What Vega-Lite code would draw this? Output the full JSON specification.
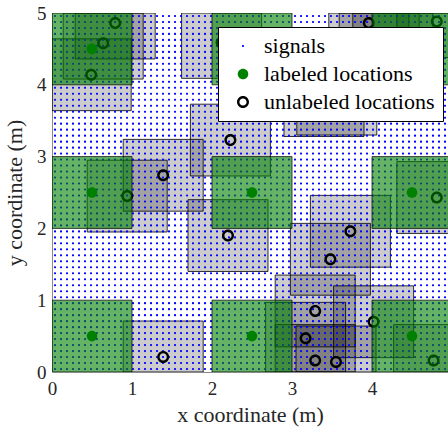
{
  "$schema": "https://vega.github.io/schema/vega-lite/v6.json",
  "width": 396,
  "height": 359,
  "autosize": {"type": "none"},
  "padding": {"left": 52, "top": 13, "right": 0, "bottom": 59},
  "background": "white",
  "datasets": {
    "greyRects": [
      {"x1": 0, "x2": 0.99, "y1": 3.64, "y2": 4.64},
      {"x1": 0.14, "x2": 1.14, "y1": 4.08, "y2": 5},
      {"x1": 0.29, "x2": 1.29, "y1": 4.36, "y2": 5},
      {"x1": 0.89, "x2": 1.89, "y1": 2.24, "y2": 3.24},
      {"x1": 0.44, "x2": 1.44, "y1": 1.95, "y2": 2.95},
      {"x1": 1.73, "x2": 2.73, "y1": 2.73, "y2": 3.73},
      {"x1": 1.7, "x2": 2.7, "y1": 1.4, "y2": 2.4},
      {"x1": 0.89, "x2": 1.89, "y1": 0, "y2": 0.71},
      {"x1": 3.23, "x2": 4.23, "y1": 1.46, "y2": 2.46},
      {"x1": 4.31, "x2": 5, "y1": 1.93, "y2": 2.93},
      {"x1": 2.98, "x2": 3.98, "y1": 1.07, "y2": 2.07},
      {"x1": 2.79, "x2": 3.79, "y1": 0.35, "y2": 1.35},
      {"x1": 3.52, "x2": 4.52, "y1": 0.2, "y2": 1.2},
      {"x1": 2.67, "x2": 3.67, "y1": 0, "y2": 0.97},
      {"x1": 2.79, "x2": 3.79, "y1": 0, "y2": 0.66},
      {"x1": 3.05, "x2": 4.05, "y1": 0, "y2": 0.64},
      {"x1": 4.27, "x2": 5, "y1": 0, "y2": 0.66},
      {"x1": 3.46, "x2": 4.46, "y1": 4.36, "y2": 5},
      {"x1": 4.31, "x2": 5, "y1": 4.38, "y2": 5},
      {"x1": 1.62, "x2": 2.62, "y1": 4.09, "y2": 5},
      {"x1": 2.9, "x2": 3.9, "y1": 3.28, "y2": 4.28},
      {"x1": 3.06, "x2": 4.06, "y1": 3.3, "y2": 4.3},
      {"x1": 3.59, "x2": 4.59, "y1": 4.12, "y2": 5},
      {"x1": 3.76, "x2": 4.76, "y1": 4.2, "y2": 5}
    ],
    "greenRects": [
      {"x1": 0, "x2": 1, "y1": 0, "y2": 1},
      {"x1": 2, "x2": 3, "y1": 0, "y2": 1},
      {"x1": 4, "x2": 5, "y1": 0, "y2": 1},
      {"x1": 0, "x2": 1, "y1": 2, "y2": 3},
      {"x1": 2, "x2": 3, "y1": 2, "y2": 3},
      {"x1": 4, "x2": 5, "y1": 2, "y2": 3},
      {"x1": 0, "x2": 1, "y1": 4, "y2": 5},
      {"x1": 2, "x2": 3, "y1": 4, "y2": 5},
      {"x1": 4, "x2": 5, "y1": 4, "y2": 5}
    ],
    "signals": [
      {"kind": "signals",
       "xs": [0.0375,0.1125,0.1875,0.2625,0.3375,0.4125,0.4875,0.5625,0.6375,0.7125,0.7875,0.8625,0.9375,1.0125,1.0875,1.1625,1.2375,1.3125,1.3875,1.4625,1.5375,1.6125,1.6875,1.7625,1.8375,1.9125,1.9875,2.0625,2.1375,2.2125,2.2875,2.3625,2.4375,2.5125,2.5875,2.6625,2.7375,2.8125,2.8875,2.9625,3.0375,3.1125,3.1875,3.2625,3.3375,3.4125,3.4875,3.5625,3.6375,3.7125,3.7875,3.8625,3.9375,4.0125,4.0875,4.1625,4.2375,4.3125,4.3875,4.4625,4.5375,4.6125,4.6875,4.7625,4.8375,4.9125],
       "ys": [0.0417,0.125,0.2083,0.2917,0.375,0.4583,0.5417,0.625,0.7083,0.7917,0.875,0.9583,1.0417,1.125,1.2083,1.2917,1.375,1.4583,1.5417,1.625,1.7083,1.7917,1.875,1.9583,2.0417,2.125,2.2083,2.2917,2.375,2.4583,2.5417,2.625,2.7083,2.7917,2.875,2.9583,3.0417,3.125,3.2083,3.2917,3.375,3.4583,3.5417,3.625,3.7083,3.7917,3.875,3.9583,4.0417,4.125,4.2083,4.2917,4.375,4.4583,4.5417,4.625,4.7083,4.7917,4.875,4.9583]}
    ],
    "labeled": [
      {"x": 0.5, "y": 0.5}, {"x": 2.5, "y": 0.5}, {"x": 4.5, "y": 0.5},
      {"x": 0.5, "y": 2.5}, {"x": 2.5, "y": 2.5}, {"x": 4.5, "y": 2.5},
      {"x": 0.5, "y": 4.5}, {"x": 2.5, "y": 4.5}, {"x": 4.5, "y": 4.5}
    ],
    "unlabeled": [
      {"x": 0.49, "y": 4.14}, {"x": 0.64, "y": 4.58}, {"x": 0.79, "y": 4.86},
      {"x": 1.39, "y": 2.74}, {"x": 0.94, "y": 2.45}, {"x": 2.23, "y": 3.23},
      {"x": 2.2, "y": 1.9}, {"x": 1.39, "y": 0.21}, {"x": 3.73, "y": 1.96},
      {"x": 4.81, "y": 2.43}, {"x": 3.48, "y": 1.57}, {"x": 3.29, "y": 0.85},
      {"x": 4.02, "y": 0.7}, {"x": 3.17, "y": 0.47}, {"x": 3.29, "y": 0.16},
      {"x": 3.55, "y": 0.14}, {"x": 4.77, "y": 0.16}, {"x": 3.96, "y": 4.86},
      {"x": 4.81, "y": 4.88}, {"x": 2.12, "y": 4.59}, {"x": 3.4, "y": 3.78},
      {"x": 3.56, "y": 3.8}, {"x": 4.09, "y": 4.62}, {"x": 4.26, "y": 4.7}
    ]
  },
  "layer": [
    {
      "data": {"name": "greyRects"},
      "mark": {"type": "rect", "clip": true, "fill": "black", "fillOpacity": 0.2, "stroke": "black", "strokeOpacity": 0.8, "strokeWidth": 1},
      "encoding": {
        "x": {"field": "x1", "type": "quantitative", "scale": {"domain": [0, 4.95], "nice": false, "zero": false}, "title": "x coordinate (m)", "axis": {"values": [0, 1, 2, 3, 4], "format": "d", "labelFlush": false}},
        "x2": {"field": "x2"},
        "y": {"field": "y1", "type": "quantitative", "scale": {"domain": [0, 5], "nice": false, "zero": false}, "title": "y coordinate (m)", "axis": {"values": [0, 1, 2, 3, 4, 5], "format": "d", "labelFlush": false}},
        "y2": {"field": "y2"}
      }
    },
    {
      "data": {"name": "signals"},
      "transform": [
        {"flatten": ["xs"], "as": ["x"]},
        {"flatten": ["ys"], "as": ["y"]}
      ],
      "mark": {"type": "point", "filled": true, "opacity": 1, "size": 144, "clip": true},
      "encoding": {
        "x": {"field": "x", "type": "quantitative", "title": "x coordinate (m)"},
        "y": {"field": "y", "type": "quantitative", "title": "y coordinate (m)"},
        "color": {
          "datum": "signals", "type": "nominal",
          "scale": {"domain": ["signals", "labeled locations", "unlabeled locations"], "range": ["#0000ff", "#008000", "#000000"]},
          "legend": {"orient": "none", "legendX": 166, "legendY": 14, "title": null, "labelFont": "Liberation Serif", "labelFontSize": 22, "labelLimit": 0, "labelColor": "black"}
        },
        "shape": {
          "datum": "signals", "type": "nominal",
          "scale": {"domain": ["signals", "labeled locations", "unlabeled locations"], "range": [
            "M-0.18,0A0.18,0.18,0,1,0,0.18,0A0.18,0.18,0,1,0,-0.18,0Z",
            "M-0.88,0A0.88,0.88,0,1,0,0.88,0A0.88,0.88,0,1,0,-0.88,0Z",
            "M-1,0A1,1,0,1,0,1,0A1,1,0,1,0,-1,0ZM-0.6,0A0.6,0.6,0,1,1,0.6,0A0.6,0.6,0,1,1,-0.6,0Z"
          ]},
          "legend": {"orient": "none", "legendX": 166, "legendY": 14, "title": null, "labelFont": "Liberation Serif", "labelFontSize": 22, "labelLimit": 0, "labelColor": "black"}
        }
      }
    },
    {
      "data": {"name": "unlabeled"},
      "mark": {"type": "point", "filled": true, "opacity": 1, "size": 144, "clip": true},
      "encoding": {
        "x": {"field": "x", "type": "quantitative", "title": "x coordinate (m)"},
        "y": {"field": "y", "type": "quantitative", "title": "y coordinate (m)"},
        "color": {"datum": "unlabeled locations", "type": "nominal"},
        "shape": {"datum": "unlabeled locations", "type": "nominal"}
      }
    },
    {
      "data": {"name": "labeled"},
      "mark": {"type": "point", "filled": true, "opacity": 1, "size": 144, "clip": true},
      "encoding": {
        "x": {"field": "x", "type": "quantitative", "title": "x coordinate (m)"},
        "y": {"field": "y", "type": "quantitative", "title": "y coordinate (m)"},
        "color": {"datum": "labeled locations", "type": "nominal"},
        "shape": {"datum": "labeled locations", "type": "nominal"}
      }
    },
    {
      "data": {"name": "greenRects"},
      "mark": {"type": "rect", "clip": true, "fill": "#008000", "fillOpacity": 0.6, "stroke": "black", "strokeOpacity": 0.7, "strokeWidth": 1},
      "encoding": {
        "x": {"field": "x1", "type": "quantitative", "title": "x coordinate (m)"},
        "x2": {"field": "x2"},
        "y": {"field": "y1", "type": "quantitative", "title": "y coordinate (m)"},
        "y2": {"field": "y2"}
      }
    }
  ],
  "config": {
    "view": {"stroke": null},
    "style": {"guide-label": {"font": "Liberation Serif"}},
    "axis": {
      "grid": false,
      "ticks": false,
      "domainColor": "#888888",
      "labelFont": "Liberation Serif",
      "labelFontSize": 19,
      "labelColor": "#262626",
      "titleFont": "Liberation Serif",
      "titleFontSize": 22,
      "titleFontWeight": "normal",
      "titleColor": "#262626"
    },
    "axisX": {"labelPadding": 7, "titlePadding": 6},
    "axisY": {"labelPadding": 6, "titlePadding": 10},
    "legend": {
      "fillColor": "white",
      "strokeColor": "black",
      "padding": 8,
      "labelFont": "Liberation Serif",
      "labelFontSize": 22,
      "labelColor": "black",
      "labelLimit": 0,
      "rowPadding": 6,
      "symbolOffset": 6,
      "labelOffset": 10,
      "symbolSize": 144,
      "symbolStrokeWidth": 0
    }
  }
}
